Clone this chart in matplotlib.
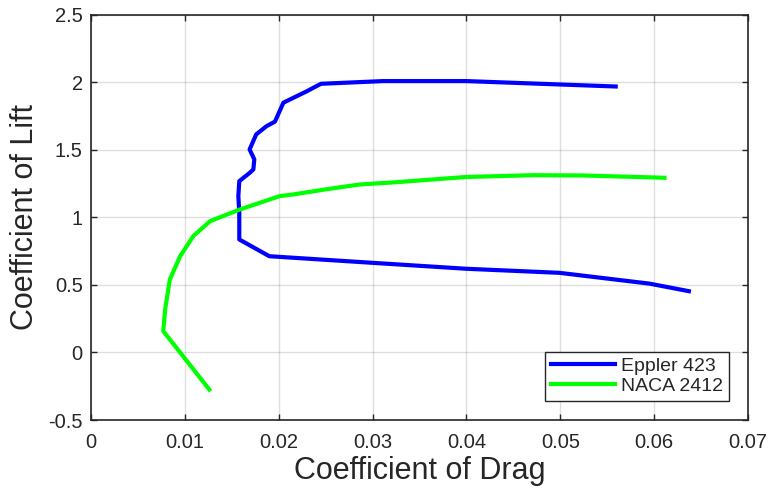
import matplotlib
matplotlib.use("Agg")
import matplotlib.pyplot as plt

plt.rcParams['font.family'] = ['Liberation Sans', 'DejaVu Sans']

# Eppler 423 drag polar (Cd, Cl)
e423_cd = [0.0637, 0.0595, 0.0499, 0.0400, 0.0300, 0.0190, 0.0158, 0.0158, 0.0157,
           0.0158, 0.0169, 0.0173, 0.0174, 0.0169, 0.0176, 0.0187, 0.0196, 0.0205,
           0.0230, 0.0245, 0.0311, 0.0400, 0.0499, 0.0559]
e423_cl = [0.454, 0.51, 0.59, 0.62, 0.664, 0.713, 0.837, 1.035, 1.158,
           1.269, 1.33, 1.356, 1.43, 1.504, 1.615, 1.676, 1.71, 1.85,
           1.935, 1.99, 2.01, 2.01, 1.985, 1.97]

# NACA 2412 drag polar (Cd, Cl)
naca_cd = [0.0126, 0.0095, 0.0077, 0.0079, 0.0084, 0.0095, 0.0109, 0.0127, 0.0159,
           0.0201, 0.0215, 0.0249, 0.0286, 0.0325, 0.0400, 0.0471, 0.0524, 0.0611]
naca_cl = [-0.274, 0.0, 0.158, 0.319, 0.54, 0.713, 0.862, 0.973, 1.06,
           1.158, 1.17, 1.207, 1.244, 1.261, 1.30, 1.313, 1.311, 1.294]

xticks = [0, 0.01, 0.02, 0.03, 0.04, 0.05, 0.06, 0.07]
xtick_labels = ['0', '0.01', '0.02', '0.03', '0.04', '0.05', '0.06', '0.07']
yticks = [-0.5, 0, 0.5, 1, 1.5, 2, 2.5]
ytick_labels = ['-0.5', '0', '0.5', '1', '1.5', '2', '2.5']

fig = plt.figure(figsize=(7.73, 4.91), dpi=100)
ax = fig.add_axes([0.1177, 0.1446, 0.85, 0.825])

ax.plot(e423_cd, e423_cl, color='#0000ff', linewidth=3, label='Eppler 423')
ax.plot(naca_cd, naca_cl, color='#00ff00', linewidth=3, label='NACA 2412')

ax.set_xlim(0, 0.07)
ax.set_ylim(-0.5, 2.5)
ax.set_xticks(xticks)
ax.set_xticklabels(xtick_labels)
ax.set_yticks(yticks)
ax.set_yticklabels(ytick_labels)

ax.grid(True, color='#262626', alpha=0.15, linewidth=1)
ax.tick_params(direction='in', top=True, right=True, length=4, width=1,
               colors='#262626', labelsize=14.5)
ax.tick_params(axis='x', pad=9)
ax.tick_params(axis='y', pad=6)
for s in ax.spines.values():
    s.set_color('#262626')
    s.set_linewidth(1.2)

ax.set_xlabel('Coefficient of Drag', fontsize=22, color='#262626', labelpad=3)
ax.set_ylabel('Coefficient of Lift', fontsize=22, color='#262626', labelpad=6)

leg = ax.legend(loc='lower right', fontsize=14, fancybox=False, framealpha=1,
                edgecolor='#262626', handlelength=3.3, borderaxespad=1.0,
                handletextpad=0.3, labelspacing=0.1, borderpad=0.3)
leg.get_frame().set_linewidth(1)
for t in leg.get_texts():
    t.set_color('#262626')

fig.savefig('out.png', dpi=100)
